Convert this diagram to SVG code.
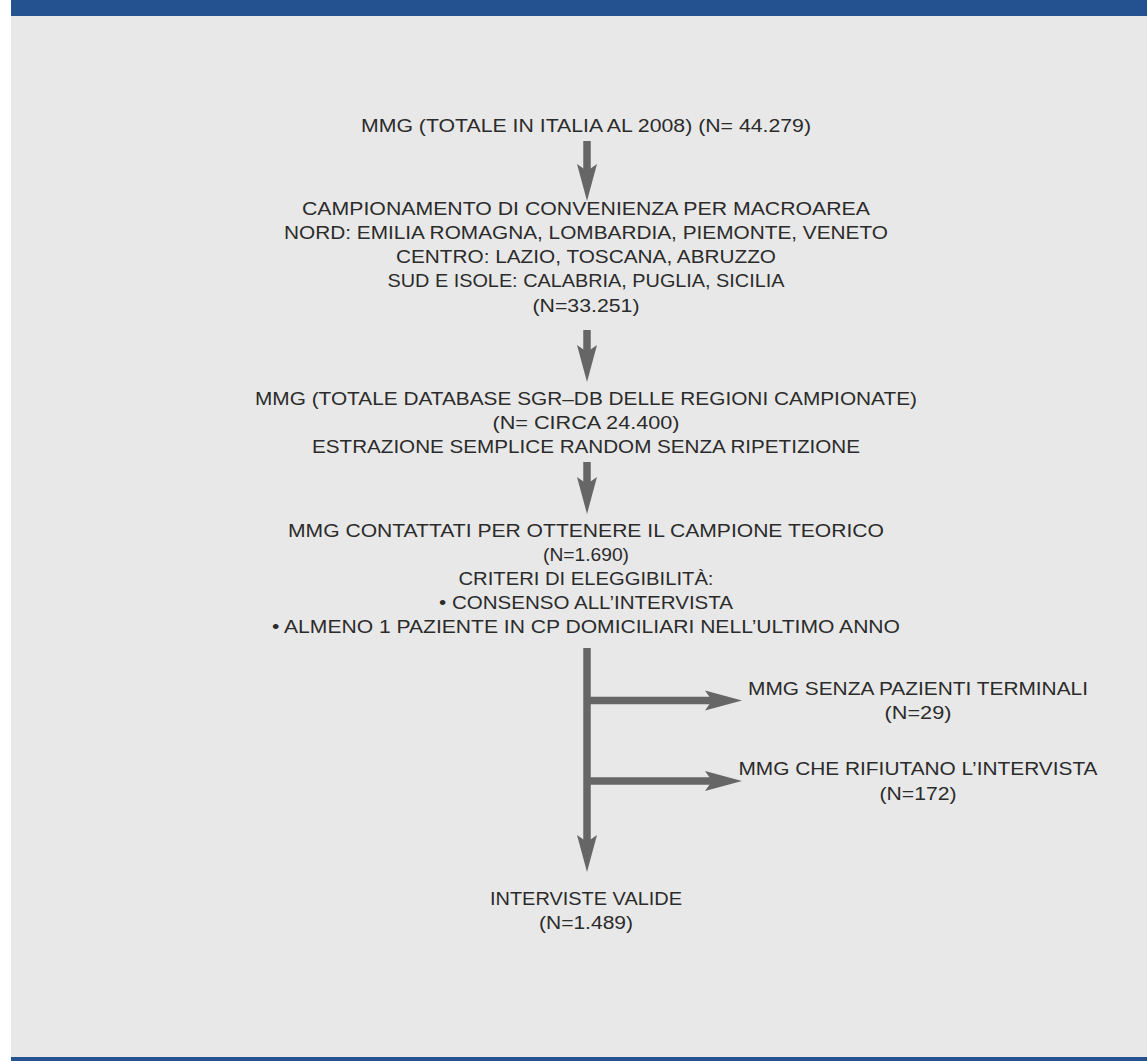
<svg xmlns="http://www.w3.org/2000/svg" width="1147" height="1061" viewBox="0 0 1147 1061">
<defs>
<style>
.t{font-family:"Liberation Sans","DejaVu Sans",sans-serif;font-size:18px;fill:#2b2b2b;text-anchor:middle}
.c{stroke:#666666;stroke-width:7.5;fill:none}
</style>
<marker id="ah" markerUnits="userSpaceOnUse" markerWidth="40" markerHeight="22" refX="7" refY="10" orient="auto" overflow="visible">
<path d="M0,0 L37,10 L0,20 L7,10 Z" fill="#666666"/>
</marker>
</defs>
<rect x="0" y="0" width="1147" height="1061" fill="#ffffff"/>
<rect x="11" y="0" width="1136" height="1061" fill="#e8e8e8"/>
<rect x="11" y="0" width="1136" height="16" fill="#245290"/>
<rect x="11" y="1057" width="1136" height="4" fill="#245290"/>

<g id="connectors">
<line class="c" x1="587" y1="141" x2="587" y2="171" marker-end="url(#ah)"/>
<line class="c" x1="587" y1="330" x2="587" y2="352" marker-end="url(#ah)"/>
<line class="c" x1="587" y1="462" x2="587" y2="484" marker-end="url(#ah)"/>
<line class="c" x1="587" y1="648" x2="587" y2="842" marker-end="url(#ah)"/>
<line class="c" x1="587" y1="700.5" x2="712" y2="700.5" marker-end="url(#ah)"/>
<line class="c" x1="587" y1="781" x2="712" y2="781" marker-end="url(#ah)"/>
</g>

<g id="n1">
<text class="t" x="586" y="131.5" textLength="450" lengthAdjust="spacingAndGlyphs">MMG (TOTALE IN ITALIA AL 2008) (N= 44.279)</text>
</g>
<g id="n2">
<text class="t" x="586" y="214.5" textLength="568" lengthAdjust="spacingAndGlyphs">CAMPIONAMENTO DI CONVENIENZA PER MACROAREA</text>
<text class="t" x="586" y="238.5" textLength="604" lengthAdjust="spacingAndGlyphs">NORD: EMILIA ROMAGNA, LOMBARDIA, PIEMONTE, VENETO</text>
<text class="t" x="586" y="262.5" textLength="380" lengthAdjust="spacingAndGlyphs">CENTRO: LAZIO, TOSCANA, ABRUZZO</text>
<text class="t" x="586" y="286.5" textLength="397" lengthAdjust="spacingAndGlyphs">SUD E ISOLE: CALABRIA, PUGLIA, SICILIA</text>
<text class="t" x="586" y="311.5" textLength="107" lengthAdjust="spacingAndGlyphs">(N=33.251)</text>
</g>
<g id="n3">
<text class="t" x="586" y="404.5" textLength="662" lengthAdjust="spacingAndGlyphs">MMG (TOTALE DATABASE SGR–DB DELLE REGIONI CAMPIONATE)</text>
<text class="t" x="586" y="428.5" textLength="187" lengthAdjust="spacingAndGlyphs">(N= CIRCA 24.400)</text>
<text class="t" x="586" y="452.5" textLength="548" lengthAdjust="spacingAndGlyphs">ESTRAZIONE SEMPLICE RANDOM SENZA RIPETIZIONE</text>
</g>
<g id="n4">
<text class="t" x="586" y="536.5" textLength="596" lengthAdjust="spacingAndGlyphs">MMG CONTATTATI PER OTTENERE IL CAMPIONE TEORICO</text>
<text class="t" x="586" y="560.5" textLength="86" lengthAdjust="spacingAndGlyphs">(N=1.690)</text>
<text class="t" x="586" y="584.5" textLength="255" lengthAdjust="spacingAndGlyphs">CRITERI DI ELEGGIBILITÀ:</text>
<text class="t" x="586" y="608.5" textLength="294" lengthAdjust="spacingAndGlyphs">• CONSENSO ALL’INTERVISTA</text>
<text class="t" x="586" y="632.5" textLength="628" lengthAdjust="spacingAndGlyphs">• ALMENO 1 PAZIENTE IN CP DOMICILIARI NELL’ULTIMO ANNO</text>
</g>
<g id="n5">
<text class="t" x="918" y="694.5" textLength="340" lengthAdjust="spacingAndGlyphs">MMG SENZA PAZIENTI TERMINALI</text>
<text class="t" x="918" y="718.5" textLength="67" lengthAdjust="spacingAndGlyphs">(N=29)</text>
</g>
<g id="n6">
<text class="t" x="918" y="774.5" textLength="359" lengthAdjust="spacingAndGlyphs">MMG CHE RIFIUTANO L’INTERVISTA</text>
<text class="t" x="918" y="799.5" textLength="77" lengthAdjust="spacingAndGlyphs">(N=172)</text>
</g>
<g id="n7">
<text class="t" x="586" y="904.5" textLength="192" lengthAdjust="spacingAndGlyphs">INTERVISTE VALIDE</text>
<text class="t" x="586" y="928.5" textLength="94" lengthAdjust="spacingAndGlyphs">(N=1.489)</text>
</g>
</svg>
